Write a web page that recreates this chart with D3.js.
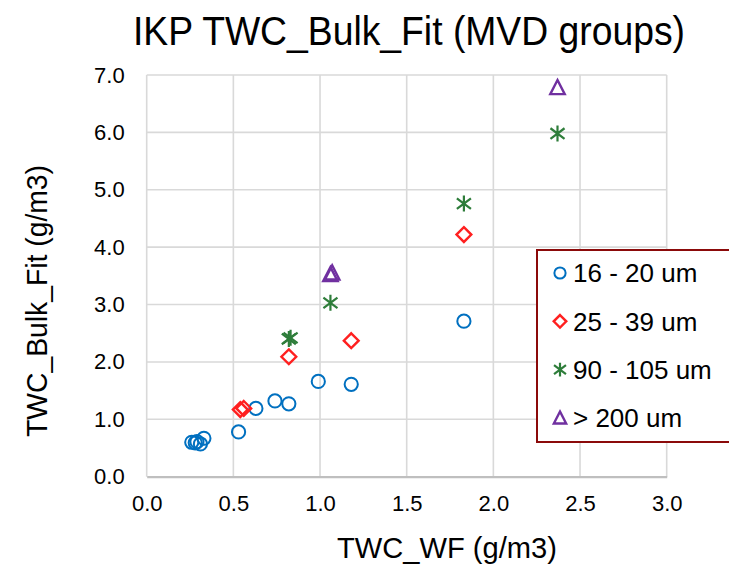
<!DOCTYPE html>
<html>
<head>
<meta charset="utf-8">
<script src="https://cdn.jsdelivr.net/npm/d3@7"></script>
<style>
  html, body { margin: 0; padding: 0; background: #fff; }
  svg { display: block; font-family: "Liberation Sans", Arial, sans-serif; }
</style>
</head>
<body>
<svg id="chart" width="729" height="570"></svg>
<script>
// Series: [TWC_WF, TWC_Bulk_Fit] pairs, grouped by median volume diameter
const mvd16to20 = [
  [0.26, 0.60], [0.28, 0.59], [0.29, 0.61], [0.31, 0.57], [0.33, 0.67],
  [0.53, 0.78], [0.63, 1.19], [0.74, 1.32], [0.82, 1.27],
  [0.99, 1.66], [1.18, 1.61], [1.83, 2.71]
];
const mvd25to39 = [
  [0.54, 1.17], [0.56, 1.19], [0.82, 2.09], [1.18, 2.37], [1.83, 4.22]
];
const mvd90to105 = [
  [0.82, 2.40], [0.83, 2.42], [1.06, 3.03], [1.83, 4.76], [2.37, 5.98]
];
const mvdOver200 = [
  [1.06, 3.52], [1.07, 3.55], [2.37, 6.78]
];

const seriesNames = ["16 - 20 um", "25 - 39 um", "90 - 105 um", "> 200 um"];
const xTicks = [0.0, 0.5, 1.0, 1.5, 2.0, 2.5, 3.0];
const yTicks = [0.0, 1.0, 2.0, 3.0, 4.0, 5.0, 6.0, 7.0];

const chartTitle = "IKP TWC_Bulk_Fit (MVD groups)";
const xTitle = "TWC_WF (g/m3)";
const yTitle = "TWC_Bulk_Fit (g/m3)";

// Marker shapes, centred on the origin
const shapes = {
  circle: r => `M${r},0A${r},${r} 0 1,1 ${-r},0A${r},${r} 0 1,1 ${r},0Z`,
  diamond: r => `M0,${-r}L${r},0L0,${r}L${-r},0Z`,
  star: r => {
    const d = r * 0.88;
    return `M0,${-r}V${r}M${-d},${-d * 0.75}L${d},${d * 0.75}M${d},${-d * 0.75}L${-d},${d * 0.75}`;
  },
  triangle: r => `M0,${-r}L${r * 0.95},${r * 0.85}L${-r * 0.95},${r * 0.85}Z`
};

const groups = [
  { name: seriesNames[0], data: mvd16to20, color: "#0070C0", shape: "circle", r: 6.6, w: 2 },
  { name: seriesNames[1], data: mvd25to39, color: "#FF2020", shape: "diamond", r: 7.4, w: 2.4 },
  { name: seriesNames[2], data: mvd90to105, color: "#2E7D3A", shape: "star", r: 8, w: 2.2 },
  { name: seriesNames[3], data: mvdOver200, color: "#7030A0", shape: "triangle", r: 7.6, w: 2.4 }
];

const svg = d3.select("#chart");
const plot = { left: 146.7, right: 666.7, top: 75, bottom: 476.7 };

const x = d3.scaleLinear().domain([0, 3]).range([plot.left, plot.right]);
const y = d3.scaleLinear().domain([0, 7]).range([plot.bottom, plot.top]);

// Gridlines
const grid = svg.append("g");
grid.selectAll("line.v").data(xTicks).join("line")
  .attr("x1", d => x(d)).attr("x2", d => x(d))
  .attr("y1", plot.top).attr("y2", plot.bottom)
  .attr("stroke", "#d9d9d9").attr("stroke-width", 1.6);
grid.selectAll("line.h").data(yTicks.filter(d => d > 0)).join("line")
  .attr("x1", plot.left).attr("x2", plot.right)
  .attr("y1", d => y(d)).attr("y2", d => y(d))
  .attr("stroke", "#d9d9d9").attr("stroke-width", 1.6);

// Axes
const xAxis = svg.append("g")
  .attr("transform", `translate(0,${plot.bottom})`)
  .call(d3.axisBottom(x).tickValues(xTicks).tickFormat(d3.format(".1f")).tickSize(0).tickPadding(19));
xAxis.select(".domain").attr("stroke", "#bfbfbf").attr("stroke-width", 2.2);
xAxis.selectAll("text").attr("font-size", 22).attr("fill", "#000")
  .attr("font-family", "'Liberation Sans', Arial, sans-serif");

const yAxis = svg.append("g")
  .attr("transform", `translate(${plot.left},0)`)
  .call(d3.axisLeft(y).tickValues(yTicks).tickFormat(d3.format(".1f")).tickSize(0).tickPadding(22));
yAxis.select(".domain").remove();
yAxis.selectAll("text").attr("font-size", 22).attr("fill", "#000")
  .attr("font-family", "'Liberation Sans', Arial, sans-serif");

// Markers
const marks = svg.append("g");
groups.forEach(g => {
  marks.append("g").selectAll("path").data(g.data).join("path")
    .attr("transform", d => `translate(${x(d[0])},${y(d[1])})`)
    .attr("d", shapes[g.shape](g.r))
    .attr("fill", "none")
    .attr("stroke", g.color)
    .attr("stroke-width", g.w)
    .attr("stroke-linejoin", "miter");
});

// Titles
svg.append("text")
  .attr("x", 409).attr("y", 45)
  .attr("text-anchor", "middle")
  .attr("font-size", 40)
  .attr("textLength", 552).attr("lengthAdjust", "spacingAndGlyphs")
  .text(chartTitle);

svg.append("text")
  .attr("x", 447).attr("y", 558)
  .attr("text-anchor", "middle")
  .attr("font-size", 29)
  .attr("textLength", 220).attr("lengthAdjust", "spacingAndGlyphs")
  .text(xTitle);

svg.append("text")
  .attr("transform", "translate(47,301) rotate(-90)")
  .attr("text-anchor", "middle")
  .attr("font-size", 30)
  .attr("textLength", 272).attr("lengthAdjust", "spacingAndGlyphs")
  .text(yTitle);

// Legend
const legend = svg.append("g");
legend.append("rect")
  .attr("x", 537).attr("y", 250)
  .attr("width", 220).attr("height", 192)
  .attr("fill", "#fff")
  .attr("stroke", "#8B0A0A").attr("stroke-width", 2);

const rowY = d3.scalePoint().domain(seriesNames).range([273, 418]);
const rows = legend.selectAll("g.row").data(groups).join("g")
  .attr("transform", d => `translate(560,${rowY(d.name)})`);
rows.append("path")
  .attr("d", d => shapes[d.shape](d.r * 0.85))
  .attr("fill", "none")
  .attr("stroke", d => d.color)
  .attr("stroke-width", d => d.w);
rows.append("text")
  .attr("x", 13).attr("dy", "0.36em")
  .attr("font-size", 26)
  .attr("fill", "#000")
  .text(d => d.name);
</script>
</body>
</html>
